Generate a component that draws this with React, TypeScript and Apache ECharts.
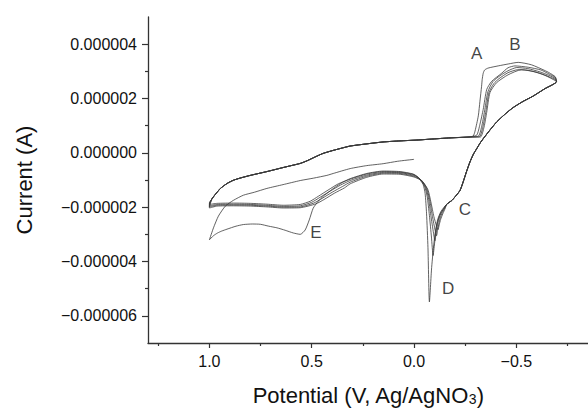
import React, { useEffect, useRef } from "react";
import * as echarts from "echarts";

// Tick values (x in V, y in µA; y labels shown in A)
const xMajorTicks = [1.0, 0.5, 0.0, -0.5];
const xMinorTicks = [1.25, 0.75, 0.25, -0.25, -0.75];
const yMajorTicks = [-6, -4, -2, 0, 2, 4];
const yMinorTicks = [-5, -3, -1, 1, 3];

// First scan: from 0 V towards +1.0 V (thin line)
const initialScan = [
  [0.0, -0.24], [0.08, -0.31], [0.151, -0.4], [0.231, -0.47], [0.312, -0.58], [0.395, -0.76],
  [0.426, -0.83], [0.49, -0.93], [0.556, -1.02], [0.64, -1.17], [0.719, -1.31], [0.78, -1.45],
  [0.834, -1.56], [0.883, -1.75], [0.922, -1.96], [0.956, -2.33], [0.98, -2.76], [1.0, -3.2],
];

// First return with peak E
const eCurve = [
  [0.98, -3.05], [0.96, -2.95], [0.94, -2.88], [0.914, -2.81], [0.87, -2.7], [0.834, -2.64],
  [0.79, -2.62], [0.751, -2.63], [0.71, -2.7], [0.67, -2.76], [0.63, -2.85], [0.59, -2.95],
  [0.556, -3.0], [0.532, -2.84], [0.512, -2.47], [0.493, -2.04], [0.468, -1.78], [0.444, -1.6],
];

// Lower branches to peak D (cycles 1..5)
const lower1 = [
  [0.41, -1.4], [0.385, -1.26], [0.35, -1.09], [0.312, -0.95], [0.231, -0.76], [0.151, -0.67],
  [0.068, -0.69], [0.005, -0.78], [-0.02, -0.91], [-0.044, -1.16], [-0.054, -1.49], [-0.061, -2.22],
  [-0.068, -3.49], [-0.075, -5.49], [-0.086, -4.22], [-0.1, -3.13], [-0.115, -2.47], [-0.132, -2.15],
];
const lower2 = [
  [1.0, -1.9], [0.962, -1.86], [0.883, -1.85], [0.8, -1.86], [0.719, -1.89], [0.639, -1.93],
  [0.556, -1.9], [0.507, -1.78], [0.468, -1.6], [0.42, -1.37], [0.37, -1.14], [0.312, -0.97],
  [0.231, -0.78], [0.151, -0.69], [0.068, -0.71], [0.0, -0.8], [-0.025, -0.93], [-0.05, -1.2],
  [-0.064, -1.6], [-0.075, -2.3], [-0.085, -3.1], [-0.093, -3.78], [-0.1, -3.35], [-0.11, -2.7],
  [-0.125, -2.3], [-0.145, -2.05],
];
const lower3 = [
  [1.0, -1.95], [0.962, -1.9], [0.883, -1.89], [0.8, -1.9], [0.719, -1.93], [0.639, -1.97],
  [0.556, -1.95], [0.5, -1.82], [0.46, -1.64], [0.41, -1.41], [0.36, -1.19], [0.312, -1.02],
  [0.231, -0.82], [0.151, -0.72], [0.068, -0.73], [0.0, -0.83], [-0.03, -0.97], [-0.056, -1.25],
  [-0.07, -1.65], [-0.082, -2.3], [-0.095, -2.95], [-0.102, -3.24], [-0.108, -2.95], [-0.117, -2.55],
  [-0.13, -2.25], [-0.147, -2.03],
];
const lower4 = [
  [1.0, -1.99], [0.962, -1.93], [0.883, -1.92], [0.8, -1.93], [0.719, -1.96], [0.639, -2.0],
  [0.556, -1.99], [0.49, -1.85], [0.45, -1.68], [0.4, -1.45], [0.35, -1.24], [0.312, -1.08],
  [0.231, -0.86], [0.151, -0.75], [0.068, -0.76], [0.0, -0.86], [-0.035, -1.0], [-0.062, -1.3],
  [-0.076, -1.72], [-0.09, -2.35], [-0.103, -2.85], [-0.11, -3.05], [-0.116, -2.8], [-0.124, -2.5],
  [-0.135, -2.25], [-0.15, -2.03],
];
const lower5 = [
  [1.0, -2.03], [0.962, -1.96], [0.883, -1.95], [0.8, -1.96], [0.719, -1.99], [0.639, -2.03],
  [0.556, -2.02], [0.48, -1.88], [0.44, -1.72], [0.39, -1.49], [0.34, -1.29], [0.312, -1.14],
  [0.231, -0.9], [0.151, -0.78], [0.068, -0.79], [0.0, -0.89], [-0.04, -1.04], [-0.068, -1.36],
  [-0.082, -1.8], [-0.097, -2.35], [-0.11, -2.7], [-0.117, -2.83], [-0.123, -2.65], [-0.13, -2.45],
  [-0.14, -2.25], [-0.153, -2.03],
];

// Shoulder C and rise to the switching potential
const returnBranch = [
  [-0.16, -1.89], [-0.185, -1.75], [-0.208, -1.55], [-0.225, -1.38], [-0.24, -1.07], [-0.256, -0.7],
  [-0.273, -0.34], [-0.29, -0.05], [-0.306, 0.15], [-0.322, 0.35], [-0.337, 0.51], [-0.371, 0.84],
  [-0.403, 1.13], [-0.444, 1.42], [-0.483, 1.66], [-0.532, 1.89], [-0.58, 2.08], [-0.639, 2.36],
  [-0.696, 2.62],
];

// Peaks A / B on the upper branch (cycles 1..5)
const top1AB = [
  [-0.69, 2.8], [-0.66, 2.95], [-0.639, 3.03], [-0.574, 3.24], [-0.509, 3.33], [-0.46, 3.27],
  [-0.411, 3.2], [-0.362, 3.12], [-0.345, 3.05], [-0.338, 2.93], [-0.333, 2.7], [-0.33, 2.45],
  [-0.322, 1.9], [-0.314, 1.36], [-0.298, 0.8], [-0.289, 0.62],
];
const top2AB = [
  [-0.69, 2.78], [-0.66, 2.9], [-0.62, 3.05], [-0.558, 3.15], [-0.493, 3.2], [-0.459, 3.13],
  [-0.428, 2.93], [-0.379, 2.63], [-0.355, 2.33], [-0.338, 1.6], [-0.322, 1.05], [-0.306, 0.65],
];
const top3AB = [
  [-0.69, 2.74], [-0.66, 2.85], [-0.615, 2.98], [-0.556, 3.1], [-0.502, 3.14], [-0.459, 3.02],
  [-0.42, 2.84], [-0.385, 2.62], [-0.361, 2.25], [-0.346, 1.6], [-0.332, 1.02], [-0.315, 0.62],
];
const top4AB = [
  [-0.69, 2.7], [-0.66, 2.8], [-0.615, 2.93], [-0.556, 3.04], [-0.507, 3.06], [-0.459, 2.95],
  [-0.415, 2.73], [-0.39, 2.55], [-0.366, 2.22], [-0.351, 1.53], [-0.337, 0.98], [-0.32, 0.6],
];
const top5AB = [
  [-0.69, 2.66], [-0.64, 2.85], [-0.59, 2.98], [-0.525, 3.06], [-0.459, 2.87], [-0.403, 2.58],
  [-0.371, 2.22], [-0.355, 1.49], [-0.342, 0.95], [-0.324, 0.58],
];

// Upper branch back to +1.0 V (shared)
const topLeft = [
  [-0.263, 0.58], [-0.176, 0.55], [-0.093, 0.51], [-0.013, 0.47], [0.068, 0.44], [0.151, 0.4],
  [0.231, 0.33], [0.312, 0.25], [0.36, 0.16], [0.395, 0.09], [0.444, -0.02], [0.483, -0.15],
  [0.522, -0.29], [0.556, -0.39], [0.6, -0.47], [0.639, -0.54], [0.719, -0.69], [0.8, -0.83],
  [0.85, -0.93], [0.883, -1.01], [0.914, -1.13], [0.946, -1.31], [0.971, -1.53], [0.988, -1.7],
];
const topEnds = [[1.0, -1.84], [1.0, -1.88], [1.0, -1.92], [1.0, -1.96], [1.0, -2.0]];

const peakLabels = [
  { name: "A", value: [-0.306, 3.66] },
  { name: "B", value: [-0.493, 4.0] },
  { name: "C", value: [-0.249, -2.1] },
  { name: "D", value: [-0.167, -5.0] },
  { name: "E", value: [0.479, -2.95] },
];

const FONT = "'Liberation Sans', Arial, Helvetica, sans-serif";

export default function App() {
  const ref = useRef<HTMLDivElement>(null);

  useEffect(() => {
    if (!ref.current) return;
    const chart = echarts.init(ref.current, null, { renderer: "svg" });

    const trace = [
      ...initialScan, ...eCurve, ...lower1, ...returnBranch, ...top1AB, ...topLeft, topEnds[0],
      ...lower2, ...returnBranch, ...top2AB, ...topLeft, topEnds[1],
      ...lower3, ...returnBranch, ...top3AB, ...topLeft, topEnds[2],
      ...lower4, ...returnBranch, ...top4AB, ...topLeft, topEnds[3],
      ...lower5, ...returnBranch, ...top5AB, ...topLeft, topEnds[4],
    ];

    const axisColor = "#333";
    const minus = "\u2212";
    const xFmt = (v: number) => (v < 0 ? minus : "") + Math.abs(v).toFixed(1);
    const yFmt = (v: number) => (v < 0 ? minus : "") + (Math.abs(v) * 1e-6).toFixed(6);

    chart.setOption({
      animation: false,
      textStyle: { fontFamily: FONT },
      grid: { left: 148, right: 0, top: 17, bottom: 65 },
      xAxis: [
        {
          type: "value",
          inverse: true,
          min: -0.85,
          max: 1.3,
          position: "bottom",
          name: "{a|Potential (V, Ag/AgNO}{s|3}{a|)}",
          nameLocation: "middle",
          nameGap: 41,
          nameTextStyle: {
            rich: {
              a: { fontSize: 22, color: "#111", fontFamily: FONT },
              s: { fontSize: 14, color: "#111", fontFamily: FONT, verticalAlign: "bottom" },
            },
          },
          axisLine: { show: true, onZero: false, lineStyle: { color: axisColor, width: 1.3 } },
          axisTick: { show: true, customValues: xMajorTicks, length: 5, lineStyle: { color: axisColor, width: 1.2 } },
          axisLabel: { customValues: xMajorTicks, formatter: xFmt, fontSize: 16, color: "#111", margin: 10, fontFamily: FONT },
          splitLine: { show: false },
        },
        {
          type: "value",
          inverse: true,
          min: -0.85,
          max: 1.3,
          position: "bottom",
          axisLine: { show: false, onZero: false },
          axisTick: { show: true, customValues: xMinorTicks, length: 3, lineStyle: { color: axisColor, width: 1.2 } },
          axisLabel: { show: false },
          splitLine: { show: false },
        },
      ],
      yAxis: [
        {
          type: "value",
          min: -7,
          max: 5,
          position: "left",
          name: "Current (A)",
          nameLocation: "middle",
          nameGap: 113,
          nameTextStyle: { fontSize: 22, color: "#111", fontFamily: FONT },
          axisLine: { show: true, onZero: false, lineStyle: { color: axisColor, width: 1.3 } },
          axisTick: { show: true, customValues: yMajorTicks, length: 6, lineStyle: { color: axisColor, width: 1.2 } },
          axisLabel: { customValues: yMajorTicks, formatter: yFmt, fontSize: 16, color: "#111", margin: 11, fontFamily: FONT },
          splitLine: { show: false },
        },
        {
          type: "value",
          min: -7,
          max: 5,
          position: "left",
          axisLine: { show: false, onZero: false },
          axisTick: { show: true, customValues: yMinorTicks, length: 3, lineStyle: { color: axisColor, width: 1.2 } },
          axisLabel: { show: false },
          splitLine: { show: false },
        },
      ],
      series: [
        {
          type: "line",
          xAxisIndex: 0,
          yAxisIndex: 0,
          data: trace,
          showSymbol: false,
          symbol: "none",
          smooth: 0.2,
          lineStyle: { color: "#3a3a3a", width: 0.8 },
          silent: true,
        },
        {
          type: "scatter",
          xAxisIndex: 0,
          yAxisIndex: 0,
          data: peakLabels,
          symbolSize: 0,
          label: {
            show: true,
            position: "inside",
            formatter: "{b}",
            fontSize: 17,
            color: "#111",
            fontFamily: FONT,
          },
          silent: true,
        },
      ],
    });

    return () => chart.dispose();
  }, []);

  return (
    <div
      ref={ref}
      style={{ position: "fixed", left: 0, top: 0, width: 588, height: 411, background: "#fff" }}
    />
  );
}
